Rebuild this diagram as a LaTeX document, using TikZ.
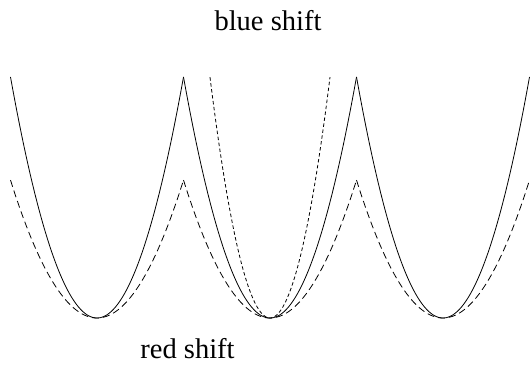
\documentclass[tikz,border=0pt]{standalone}
\usepackage{fontspec}
\setmainfont{Liberation Serif}
\tikzset{
  solidcurve/.style={line width=0.8pt, black},
  longdash/.style={line width=0.8pt, black, dash pattern=on 7pt off 4pt},
  shortdash/.style={line width=0.8pt, black, dash pattern=on 3.5pt off 2.5pt},
  lbl/.style={font=\fontsize{28.5}{30}\selectfont, anchor=base, inner sep=0pt}
}
\begin{document}
\begin{tikzpicture}[x=1pt,y=-1pt]
\useasboundingbox (0,0) rectangle (531,365);
\foreach \m in {97,270,443}{
  \draw[solidcurve] plot[domain=\m-86.5:\m+86.5, samples=80] (\x,{318-0.03221*(\x-\m)*(\x-\m)});
  \draw[longdash] plot[domain=\m-86.5:\m+86.5, samples=80] (\x,{318-0.01844*(\x-\m)*(\x-\m)});
}
\draw[shortdash] plot[domain=210:330, samples=80] (\x,{318-0.0669*(\x-270)*(\x-270)});
\node[lbl] (blue) at (268,30) {blue shift};
\node[lbl] (red) at (187.5,358) {red shift};
\end{tikzpicture}
\end{document}
